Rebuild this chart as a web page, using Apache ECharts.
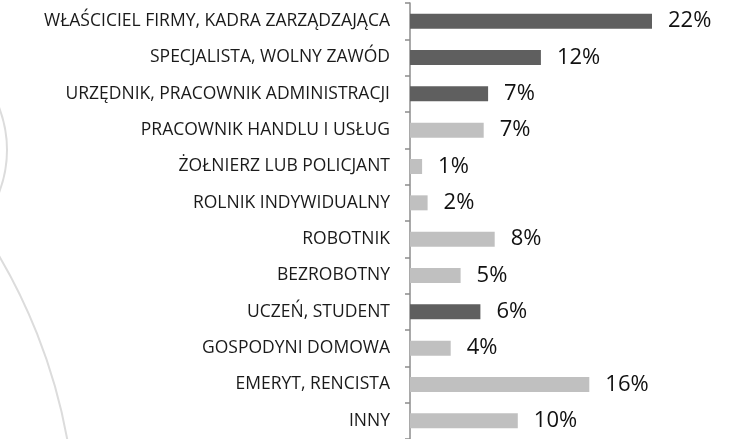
<!DOCTYPE html>
<html>
<head>
<meta charset="utf-8">
<script src="https://cdn.jsdelivr.net/npm/echarts@6/dist/echarts.min.js"></script>
<style>
  html, body { margin: 0; padding: 0; background: #fff; }
  #chart { width: 739px; height: 439px; }
</style>
</head>
<body>
<div id="chart"></div>
<script>
// kategorie zawodowe
var categories = [
  'WŁAŚCICIEL FIRMY, KADRA ZARZĄDZAJĄCA',
  'SPECJALISTA, WOLNY ZAWÓD',
  'URZĘDNIK, PRACOWNIK ADMINISTRACJI',
  'PRACOWNIK HANDLU I USŁUG',
  'ŻOŁNIERZ LUB POLICJANT',
  'ROLNIK INDYWIDUALNY',
  'ROBOTNIK',
  'BEZROBOTNY',
  'UCZEŃ, STUDENT',
  'GOSPODYNI DOMOWA',
  'EMERYT, RENCISTA',
  'INNY'
];
// udział w procentach
var values = [22, 11.9, 7.1, 6.7, 1.1, 1.6, 7.7, 4.6, 6.4, 3.7, 16.3, 9.8];
// kategorie wyróżnione ciemnym kolorem
var highlighted = [
  'WŁAŚCICIEL FIRMY, KADRA ZARZĄDZAJĄCA',
  'SPECJALISTA, WOLNY ZAWÓD',
  'URZĘDNIK, PRACOWNIK ADMINISTRACJI',
  'UCZEŃ, STUDENT'
];

var darkColor = '#5f5f5f';
var lightColor = '#c0c0c0';

var seriesData = [];
for (var i = 0; i < values.length; i++) {
  seriesData.push({
    value: values[i],
    itemStyle: { color: highlighted.indexOf(categories[i]) >= 0 ? darkColor : lightColor }
  });
}

var myChart = echarts.init(document.getElementById('chart'));

var option = {
  animation: false,
  backgroundColor: '#fff',
  // dekoracyjne łuki w tle
  graphic: [
    {
      type: 'circle', z: -10, silent: true,
      shape: { cx: -111, cy: 150, r: 118 },
      style: { fill: 'none', stroke: '#dcdcdc', lineWidth: 2 }
    },
    {
      type: 'circle', z: -10, silent: true,
      shape: { cx: -479, cy: 538, r: 555 },
      style: { fill: 'none', stroke: '#dcdcdc', lineWidth: 2 }
    }
  ],
  grid: {
    left: 410,
    right: 10,
    top: 3,
    bottom: 0,
    containLabel: false
  },
  xAxis: {
    type: 'value',
    min: 0,
    max: 29,
    show: false
  },
  yAxis: {
    type: 'category',
    inverse: true,
    data: categories,
    axisLine: { show: true, lineStyle: { color: '#8c8c8c', width: 1.5 } },
    axisTick: { show: true, length: 5, lineStyle: { color: '#8c8c8c', width: 1.5 } },
    axisLabel: {
      margin: 20,
      fontFamily: 'Open Sans',
      fontSize: 17.5,
      color: '#1a1a1a'
    }
  },
  series: [{
    type: 'bar',
    data: seriesData,
    barWidth: 15,
    label: {
      show: true,
      position: 'right',
      distance: 16,
      fontFamily: 'Open Sans',
      fontSize: 22,
      color: '#111',
      formatter: function (p) { return Math.round(p.value) + '%'; }
    }
  }]
};

myChart.setOption(option, true);
</script>
</body>
</html>
